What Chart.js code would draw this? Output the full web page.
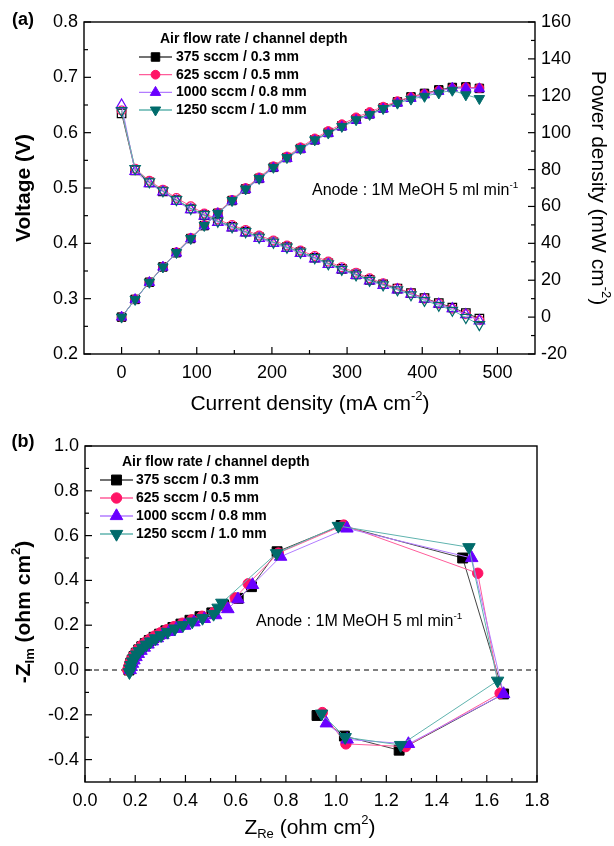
<!DOCTYPE html>
<html>
<head>
<meta charset="utf-8">
<script src="https://cdn.jsdelivr.net/npm/chart.js@4.4.0/dist/chart.umd.min.js"></script>
<style>
  html, body { margin: 0; padding: 0; background: #fff; }
  #wrapA { position: absolute; left: 0; top: 0; width: 614px; height: 420px; }
  #wrapB { position: absolute; left: 0; top: 420px; width: 614px; height: 426px; }
</style>
</head>
<body>
<div id="wrapA"><canvas id="chartA" width="614" height="420"></canvas></div>
<div id="wrapB"><canvas id="chartB" width="614" height="426"></canvas></div>
<script>
// series info
const legendTitle = 'Air flow rate / channel depth';
const seriesNames = ['375 sccm / 0.3 mm', '625 sccm / 0.5 mm', '1000 sccm / 0.8 mm', '1250 sccm / 1.0 mm'];
const markerColors = ['#000000', '#ff1466', '#6a00ff', '#006b6b'];
const lineColors = ['#444444', '#ff5c9a', '#b27cff', '#5fb3ae'];
const markerStyles = ['rect', 'circle', 'triangle', 'triangle'];
const markerRotation = [0, 0, 0, 180];

// (a) polarisation data
const currentDensity = [0, 18, 37, 55, 73, 92, 110, 128, 147, 165, 183, 202, 220, 238, 257, 275, 293, 312, 330, 348, 367, 385, 403, 422, 440, 458, 476];
const voltage375 = [0.635, 0.532, 0.510, 0.494, 0.478, 0.463, 0.451, 0.440, 0.430, 0.421, 0.411, 0.402, 0.393, 0.384, 0.374, 0.364, 0.354, 0.344, 0.334, 0.326, 0.318, 0.310, 0.301, 0.292, 0.284, 0.274, 0.264];
const voltage625 = [0.640, 0.535, 0.513, 0.497, 0.482, 0.467, 0.454, 0.443, 0.433, 0.424, 0.414, 0.405, 0.396, 0.387, 0.377, 0.367, 0.357, 0.347, 0.337, 0.328, 0.319, 0.310, 0.300, 0.291, 0.282, 0.272, 0.261];
const voltage1000 = [0.650, 0.530, 0.508, 0.493, 0.476, 0.461, 0.449, 0.438, 0.428, 0.419, 0.409, 0.400, 0.391, 0.382, 0.372, 0.362, 0.352, 0.342, 0.332, 0.324, 0.316, 0.308, 0.299, 0.290, 0.282, 0.271, 0.260];
const voltage1250 = [0.640, 0.535, 0.511, 0.495, 0.479, 0.463, 0.452, 0.440, 0.430, 0.421, 0.411, 0.402, 0.393, 0.384, 0.374, 0.363, 0.353, 0.343, 0.333, 0.325, 0.316, 0.307, 0.297, 0.288, 0.279, 0.266, 0.253];
const power375 = [0, 9.6, 18.9, 27.2, 34.9, 42.6, 49.6, 56.3, 63.2, 69.5, 75.2, 81.2, 86.5, 91.4, 96.1, 100.1, 103.7, 107.3, 110.2, 113.4, 116.7, 119.4, 121.3, 123.2, 124.5, 124.8, 124.0];
const power625 = [0, 9.7, 19.0, 27.3, 35.2, 43.0, 50.0, 56.7, 63.6, 70.0, 75.8, 81.8, 87.1, 92.1, 96.9, 100.9, 104.6, 108.3, 111.2, 114.1, 117.1, 119.4, 121.0, 122.8, 124.1, 124.6, 124.2];
const power1000 = [0, 9.5, 18.8, 27.1, 34.7, 42.4, 49.4, 56.1, 62.9, 69.1, 74.8, 80.8, 86.0, 90.9, 95.6, 99.6, 103.1, 106.7, 109.6, 112.8, 116.0, 118.6, 120.5, 122.4, 124.1, 124.1, 123.8];
const power1250 = [0, 9.6, 18.9, 27.2, 35.0, 42.6, 49.7, 56.3, 63.2, 69.5, 75.2, 81.2, 86.5, 91.4, 96.1, 99.8, 103.4, 107.0, 109.9, 113.1, 116.0, 118.2, 119.7, 121.5, 123.0, 120.5, 118.5];

const xTicksA = [0, 100, 200, 300, 400, 500];
const yTicksVolt = [0.2, 0.3, 0.4, 0.5, 0.6, 0.7, 0.8];
const yTicksPower = [-20, 0, 20, 40, 60, 80, 100, 120, 140, 160];

// (b) impedance data [Z_Re, -Z_Im]
const nyq375 = [[0.175,0.000],[0.178,0.015],[0.182,0.030],[0.188,0.045],[0.195,0.060],[0.204,0.075],[0.214,0.090],[0.226,0.104],[0.240,0.118],[0.256,0.132],[0.275,0.146],[0.297,0.160],[0.322,0.175],[0.350,0.190],[0.382,0.205],[0.418,0.222],[0.458,0.238],[0.505,0.255],[0.552,0.290],[0.610,0.320],[0.663,0.372],[0.765,0.528],[1.020,0.645],[1.504,0.500],[1.667,-0.107],[1.251,-0.358],[1.033,-0.295],[0.924,-0.203]];
const nyq625 = [[0.170,0.000],[0.174,0.016],[0.179,0.032],[0.185,0.048],[0.193,0.064],[0.202,0.080],[0.213,0.095],[0.226,0.110],[0.241,0.124],[0.258,0.138],[0.278,0.152],[0.300,0.166],[0.326,0.180],[0.355,0.194],[0.388,0.209],[0.425,0.224],[0.466,0.240],[0.512,0.256],[0.556,0.285],[0.598,0.322],[0.650,0.385],[0.770,0.522],[1.030,0.647],[1.564,0.432],[1.653,-0.104],[1.277,-0.342],[1.039,-0.330],[0.945,-0.190]];
const nyq1000 = [[0.180,0.000],[0.184,0.014],[0.189,0.028],[0.195,0.043],[0.203,0.058],[0.212,0.072],[0.223,0.086],[0.236,0.100],[0.251,0.114],[0.268,0.128],[0.288,0.142],[0.310,0.156],[0.335,0.170],[0.364,0.184],[0.397,0.198],[0.434,0.213],[0.475,0.228],[0.520,0.245],[0.569,0.272],[0.609,0.316],[0.667,0.380],[0.779,0.506],[1.043,0.632],[1.540,0.500],[1.667,-0.107],[1.288,-0.330],[1.044,-0.310],[0.961,-0.238]];
const nyq1250 = [[0.177,-0.010],[0.180,0.006],[0.184,0.022],[0.190,0.038],[0.197,0.054],[0.206,0.069],[0.216,0.084],[0.229,0.099],[0.244,0.113],[0.261,0.127],[0.281,0.141],[0.303,0.155],[0.329,0.170],[0.358,0.185],[0.390,0.200],[0.427,0.216],[0.468,0.232],[0.512,0.250],[0.530,0.278],[0.545,0.300],[0.763,0.521],[1.009,0.643],[1.529,0.548],[1.643,-0.048],[1.257,-0.335],[1.036,-0.300],[0.942,-0.195]];

const xTicksB = [0.0, 0.2, 0.4, 0.6, 0.8, 1.0, 1.2, 1.4, 1.6, 1.8];
const yTicksB = [-0.4, -0.2, 0.0, 0.2, 0.4, 0.6, 0.8, 1.0];

const FONT = '"Liberation Sans", Arial, sans-serif';
const radiusA = [6, 4.4, 6, 6];
const radiusB = [7, 5.2, 7.2, 7.2];

function setTicks(list) {
  return s => { s.ticks = list.map(v => ({ value: v })); };
}

// frame + inward major/minor ticks
const framePlugin = {
  id: 'frame',
  afterDraw(chart) {
    const ctx = chart.ctx, a = chart.chartArea;
    ctx.save();
    ctx.strokeStyle = '#000';
    ctx.lineWidth = 1.4;
    ctx.strokeRect(a.left, a.top, a.right - a.left, a.bottom - a.top);
    ctx.lineWidth = 1.2;
    Object.values(chart.scales).forEach(s => {
      const vals = s.ticks.map(t => t.value);
      const step = vals[1] - vals[0];
      const marks = [];
      vals.forEach(v => marks.push([v, 7]));
      for (let v = vals[0] - step / 2; v < s.max; v += step) {
        if (v > s.min + 1e-9) marks.push([v, 4]);
      }
      marks.forEach(([v, len]) => {
        const p = s.getPixelForValue(v);
        ctx.beginPath();
        if (s.axis === 'x') {
          ctx.moveTo(p, a.bottom); ctx.lineTo(p, a.bottom - len);
        } else if (s.position === 'left') {
          ctx.moveTo(a.left, p); ctx.lineTo(a.left + len, p);
        } else {
          ctx.moveTo(a.right, p); ctx.lineTo(a.right - len, p);
        }
        ctx.stroke();
      });
    });
    ctx.restore();
  }
};

function drawRich(ctx, parts, cx, cy, size, weight, alignLeft) {
  let w = 0;
  parts.forEach(p => {
    ctx.font = weight + ' ' + ((p.sup || p.sub) ? size * 0.62 : size) + 'px ' + FONT;
    w += ctx.measureText(p.t).width;
  });
  let x = alignLeft ? cx : cx - w / 2;
  ctx.textAlign = 'left';
  ctx.textBaseline = 'middle';
  parts.forEach(p => {
    const sz = (p.sup || p.sub) ? size * 0.62 : size;
    ctx.font = weight + ' ' + sz + 'px ' + FONT;
    const dy = p.sup ? -size * 0.36 : (p.sub ? size * 0.32 : 0);
    ctx.fillText(p.t, x, cy + dy);
    x += ctx.measureText(p.t).width;
  });
}

function drawRotated(ctx, parts, cx, cy, size, weight, angle) {
  ctx.save();
  ctx.translate(cx, cy);
  ctx.rotate(angle);
  drawRich(ctx, parts, 0, 0, size, weight);
  ctx.restore();
}

function drawLegend(ctx, cfg) {
  ctx.save();
  ctx.textBaseline = 'middle';
  ctx.textAlign = 'left';
  ctx.font = 'bold 14px ' + FONT;
  ctx.fillStyle = '#000';
  ctx.fillText(legendTitle, cfg.titleX, cfg.y0);
  seriesNames.forEach((name, i) => {
    const y = cfg.rows[i];
    ctx.strokeStyle = lineColors[i];
    ctx.lineWidth = 1.3;
    ctx.beginPath(); ctx.moveTo(cfg.lineX, y); ctx.lineTo(cfg.lineX + cfg.lineLen, y); ctx.stroke();
    ctx.fillStyle = markerColors[i];
    ctx.strokeStyle = markerColors[i];
    ctx.lineWidth = 1;
    Chart.helpers.drawPoint(ctx, { pointStyle: markerStyles[i], radius: cfg.r[i], rotation: markerRotation[i], borderWidth: 1 }, cfg.lineX + cfg.lineLen / 2, y);
    ctx.fillStyle = '#000';
    ctx.font = 'bold 14px ' + FONT;
    ctx.fillText(name, cfg.textX, y);
  });
  ctx.restore();
}

const anodeText = [{ t: 'Anode : 1M MeOH 5 ml min' }, { t: '-1', sup: true }];

const textA = {
  id: 'textA',
  afterDraw(chart) {
    const ctx = chart.ctx;
    ctx.save();
    ctx.fillStyle = '#000';
    drawRich(ctx, [{ t: '(a)' }], 23, 20, 18, 'bold');
    drawRich(ctx, [{ t: 'Current density (mA cm' }, { t: '-2', sup: true }, { t: ')' }], 310, 404, 21, 'normal');
    drawRotated(ctx, [{ t: 'Voltage (V)' }], 24, 188, 21, 'bold', -Math.PI / 2);
    drawRotated(ctx, [{ t: 'Power density (mW cm' }, { t: '-2', sup: true }, { t: ')' }], 598, 188, 21, 'normal', Math.PI / 2);
    drawRich(ctx, anodeText, 312, 191, 16, 'normal', true);
    drawLegend(ctx, { titleX: 160, y0: 39, rows: [57, 74.7, 92.4, 110], lineX: 139, lineLen: 33, textX: 176, r: radiusA });
    ctx.restore();
  }
};

const textB = {
  id: 'textB',
  beforeDatasetsDraw(chart) {
    const ctx = chart.ctx, a = chart.chartArea;
    const y0 = chart.scales.y.getPixelForValue(0);
    ctx.save();
    ctx.strokeStyle = '#000';
    ctx.lineWidth = 1;
    ctx.setLineDash([5, 4]);
    ctx.beginPath(); ctx.moveTo(a.left, y0); ctx.lineTo(a.right, y0); ctx.stroke();
    ctx.restore();
  },
  afterDraw(chart) {
    const ctx = chart.ctx;
    ctx.save();
    ctx.fillStyle = '#000';
    drawRich(ctx, [{ t: '(b)' }], 23, 22, 18, 'bold');
    drawRich(ctx, [{ t: 'Z' }, { t: 'Re', sub: true }, { t: ' (ohm cm' }, { t: '2', sup: true }, { t: ')' }], 310, 408, 21, 'normal');
    drawRotated(ctx, [{ t: '-Z' }, { t: 'Im', sub: true }, { t: ' (ohm cm' }, { t: '2', sup: true }, { t: ')' }], 24, 192, 21, 'bold', -Math.PI / 2);
    drawRich(ctx, anodeText, 256, 202, 16, 'normal', true);
    drawLegend(ctx, { titleX: 122, y0: 42, rows: [60, 78, 96, 114], lineX: 100, lineLen: 33, textX: 136, r: radiusB });
    ctx.restore();
  }
};

const tickFont = { size: 18, family: FONT };

function lineSet(label, i, xs, ys, axis, hollow, r) {
  return {
    label: label,
    data: xs.map((x, k) => ({ x: x, y: ys[k] })),
    yAxisID: axis,
    order: 3 - i,
    borderColor: lineColors[i],
    borderWidth: 1,
    pointStyle: markerStyles[i],
    pointRotation: markerRotation[i],
    pointRadius: r[i],
    pointBorderWidth: hollow ? 1.2 : 1,
    pointBorderColor: markerColors[i],
    pointBackgroundColor: hollow ? 'rgba(0,0,0,0)' : markerColors[i],
    tension: 0,
    fill: false
  };
}

const voltages = [voltage375, voltage625, voltage1000, voltage1250];
const powers = [power375, power625, power1000, power1250];
const datasetsA = [];
voltages.forEach((v, i) => datasetsA.push(lineSet(seriesNames[i] + ' V', i, currentDensity, v, 'y', true, radiusA)));
powers.forEach((p, i) => datasetsA.push(lineSet(seriesNames[i] + ' P', i, currentDensity, p, 'y1', false, radiusA)));

new Chart(document.getElementById('chartA'), {
  type: 'line',
  data: { datasets: datasetsA },
  options: {
    responsive: false,
    animation: false,
    layout: { padding: { top: 22, left: 0, right: 0, bottom: 0 } },
    plugins: { legend: { display: false }, tooltip: { enabled: false } },
    scales: {
      x: {
        type: 'linear', min: -50, max: 550,
        afterBuildTicks: setTicks(xTicksA),
        afterFit: s => { s.height = 66; },
        grid: { display: false, drawTicks: false },
        border: { display: false },
        ticks: { padding: 8, font: tickFont, color: '#000', maxRotation: 0 }
      },
      y: {
        position: 'left', min: 0.2, max: 0.8,
        afterBuildTicks: setTicks(yTicksVolt),
        afterFit: s => { s.width = 84; },
        grid: { display: false, drawTicks: false },
        border: { display: false },
        ticks: { padding: 6, font: tickFont, color: '#000', callback: v => v.toFixed(1) }
      },
      y1: {
        position: 'right', min: -20, max: 160,
        afterBuildTicks: setTicks(yTicksPower),
        afterFit: s => { s.width = 79; },
        grid: { display: false, drawTicks: false },
        border: { display: false },
        ticks: { padding: 6, font: tickFont, color: '#000', callback: v => String(v) }
      }
    }
  },
  plugins: [framePlugin, textA]
});

const nyqs = [nyq375, nyq625, nyq1000, nyq1250];
const datasetsB = nyqs.map((d, i) => Object.assign(lineSet(seriesNames[i], i, d.map(p => p[0]), d.map(p => p[1]), 'y', false, radiusB), { showLine: true }));

new Chart(document.getElementById('chartB'), {
  type: 'scatter',
  data: { datasets: datasetsB },
  options: {
    responsive: false,
    animation: false,
    layout: { padding: { top: 26, left: 0, right: 77, bottom: 0 } },
    plugins: { legend: { display: false }, tooltip: { enabled: false } },
    scales: {
      x: {
        type: 'linear', min: 0, max: 1.8,
        afterBuildTicks: setTicks(xTicksB),
        afterFit: s => { s.height = 64; },
        grid: { display: false, drawTicks: false },
        border: { display: false },
        ticks: { padding: 8, font: tickFont, color: '#000', maxRotation: 0, callback: v => v.toFixed(1) }
      },
      y: {
        position: 'left', min: -0.5, max: 1.0,
        afterBuildTicks: setTicks(yTicksB),
        afterFit: s => { s.width = 85; },
        grid: { display: false, drawTicks: false },
        border: { display: false },
        ticks: { padding: 6, font: tickFont, color: '#000', callback: v => v.toFixed(1) }
      }
    }
  },
  plugins: [framePlugin, textB]
});
</script>
</body>
</html>
